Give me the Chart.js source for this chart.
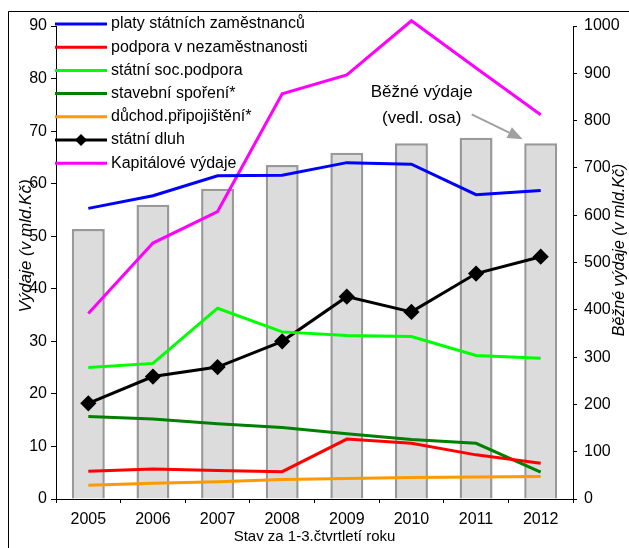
<!DOCTYPE html>
<html>
<head>
<meta charset="utf-8">
<script src="https://cdn.jsdelivr.net/npm/chart.js@4.4.1/dist/chart.umd.min.js"></script>
<style>
  body { margin: 0; background: #fff; }
  #wrap { width: 629px; height: 548px; position: relative; }
</style>
</head>
<body>
<div id="wrap"><canvas id="myChart"></canvas></div>
<script>
// roky a hodnoty
var roky = ['2005', '2006', '2007', '2008', '2009', '2010', '2011', '2012'];
var bezneVydaje = [571, 622, 656, 706, 732, 752, 764, 752];      // vedlejší osa
var platy = [55.3, 57.7, 61.5, 61.6, 64.0, 63.7, 57.9, 58.7];
var podporaNezam = [5.3, 5.7, 5.4, 5.2, 11.4, 10.6, 8.4, 6.8];
var socPodpora = [25.0, 25.8, 36.3, 31.8, 31.1, 30.9, 27.3, 26.8];
var stavebniSporeni = [15.7, 15.2, 14.3, 13.6, 12.4, 11.3, 10.6, 5.1];
var duchodPripojisteni = [2.6, 3.0, 3.3, 3.7, 3.9, 4.1, 4.2, 4.3];
var statniDluh = [18.2, 23.3, 25.1, 30.0, 38.5, 35.6, 42.9, 46.1];
var kapitaloveVydaje = [35.3, 48.7, 54.7, 77.1, 80.7, 91.0, 82.0, 73.1];

var levaOsa = [0, 90, 10];
var pravaOsa = [0, 1000, 100];

var FONT = '"Liberation Sans", Arial, sans-serif';

grafico = {
    init: function () {
        Chart.defaults.font.family = FONT;
        Chart.defaults.color = '#000';
        grafico.generateChart();
    },

    line: function (label, data, color) {
        return {
            type: 'line',
            label: label,
            data: data,
            borderColor: color,
            backgroundColor: color,
            borderWidth: 3,
            pointRadius: 0,
            tension: 0,
            clip: false,
            yAxisID: 'y',
            order: 1
        };
    },

    extras: {
        id: 'extras',
        afterDraw: function (chart) {
            var ctx = chart.ctx;
            ctx.save();

            // ramecek
            ctx.strokeStyle = '#000';
            ctx.lineWidth = 1;
            ctx.beginPath();
            ctx.moveTo(8.5, chart.height);
            ctx.lineTo(8.5, 11.5);
            ctx.lineTo(chart.width, 11.5);
            ctx.stroke();

            // popisky os
            ctx.fillStyle = '#000';
            ctx.textAlign = 'center';
            ctx.textBaseline = 'middle';
            ctx.font = 'italic 17px ' + FONT;
            ctx.save();
            ctx.translate(26, 246);
            ctx.rotate(-Math.PI / 2);
            ctx.fillText('Výdaje (v mld.Kč)', 0, 0);
            ctx.restore();
            ctx.font = 'italic 16px ' + FONT;
            ctx.save();
            ctx.translate(620, 250);
            ctx.rotate(-Math.PI / 2);
            ctx.fillText('Běžné výdaje (v mld.Kč)', 0, 0);
            ctx.restore();

            // legenda
            ctx.font = '16px ' + FONT;
            ctx.textAlign = 'left';
            var i = 0;
            chart.data.datasets.forEach(function (ds) {
                if (ds.type !== 'line') return;
                var y = 24 + i * 23.2;
                ctx.strokeStyle = ds.borderColor;
                ctx.lineWidth = 3;
                ctx.beginPath();
                ctx.moveTo(55, y);
                ctx.lineTo(107, y);
                ctx.stroke();
                if (ds.pointRadius > 0) {
                    var r = ds.pointRadius;
                    ctx.fillStyle = ds.borderColor;
                    ctx.beginPath();
                    ctx.moveTo(81, y - r);
                    ctx.lineTo(81 + r, y);
                    ctx.lineTo(81, y + r);
                    ctx.lineTo(81 - r, y);
                    ctx.closePath();
                    ctx.fill();
                }
                ctx.fillStyle = '#000';
                ctx.fillText(ds.label, 111, y);
                i++;
            });

            // popisek sloupcu se sipkou k poslednimu sloupci
            var xs = chart.scales.x;
            var y1 = chart.scales.y1;
            var last = bezneVydaje.length - 1;
            var tipX = xs.getPixelForValue(last) - 18;
            var tipY = y1.getPixelForValue(bezneVydaje[last]) - 4;
            ctx.font = '17px ' + FONT;
            ctx.textAlign = 'center';
            ctx.fillStyle = '#000';
            ctx.fillText('Běžné výdaje', tipX - 101, tipY - 47);
            ctx.fillText('(vedl. osa)', tipX - 101, tipY - 21);

            var sx = tipX - 51, sy = tipY - 25;
            var ang = Math.atan2(tipY - sy, tipX - sx);
            var len = 15, half = 6;
            var bx = tipX - len * Math.cos(ang), by = tipY - len * Math.sin(ang);
            ctx.strokeStyle = '#a0a0a0';
            ctx.fillStyle = '#a0a0a0';
            ctx.lineWidth = 2;
            ctx.beginPath();
            ctx.moveTo(sx, sy);
            ctx.lineTo(bx, by);
            ctx.stroke();
            ctx.beginPath();
            ctx.moveTo(tipX, tipY);
            ctx.lineTo(bx + half * Math.sin(ang), by - half * Math.cos(ang));
            ctx.lineTo(bx - half * Math.sin(ang), by + half * Math.cos(ang));
            ctx.closePath();
            ctx.fill();

            ctx.restore();
        }
    },

    generateChart: function () {
        var dluh = grafico.line('státní dluh', statniDluh, '#000000');
        dluh.pointRadius = 6;
        dluh.pointStyle = 'rectRot';
        dluh.pointHoverRadius = 6;

        var ctx = document.getElementById('myChart');
        var mixedChart = new Chart(ctx, {
            data: {
                labels: roky,
                datasets: [
                    grafico.line('platy státních zaměstnanců', platy, '#0000ff'),
                    grafico.line('podpora v nezaměstnanosti', podporaNezam, '#ff0000'),
                    grafico.line('státní soc.podpora', socPodpora, '#00ff00'),
                    grafico.line('stavební spoření*', stavebniSporeni, '#008000'),
                    grafico.line('důchod.připojištění*', duchodPripojisteni, '#ff9900'),
                    dluh,
                    grafico.line('Kapitálové výdaje', kapitaloveVydaje, '#ff00ff'),
                    {
                        type: 'bar',
                        label: 'Běžné výdaje',
                        data: bezneVydaje,
                        backgroundColor: '#dcdcdc',
                        borderColor: '#999999',
                        borderWidth: 2.5,
                        categoryPercentage: 1,
                        barPercentage: 0.51,
                        yAxisID: 'y1',
                        order: 10
                    }
                ]
            },
            options: {
                responsive: true,
                maintainAspectRatio: false,
                animation: false,
                layout: { padding: { top: 26, left: 0, right: 0, bottom: 0 } },
                plugins: {
                    legend: { display: false },
                    tooltip: { enabled: false }
                },
                scales: {
                    x: {
                        offset: true,
                        grid: { offset: true, drawOnChartArea: false, tickLength: 4, color: '#000' },
                        border: { color: '#000' },
                        ticks: { color: '#000', font: { size: 16 }, padding: 7 },
                        title: {
                            display: true,
                            text: 'Stav za 1-3.čtvrtletí roku',
                            color: '#000',
                            font: { size: 15 },
                            padding: { top: 0, bottom: 2 }
                        },
                        afterFit: function (s) { s.height = 49; }
                    },
                    y: {
                        position: 'left',
                        min: levaOsa[0],
                        max: levaOsa[1],
                        ticks: { stepSize: levaOsa[2], color: '#000', font: { size: 16 }, padding: 4 },
                        grid: { drawOnChartArea: false, tickLength: 5, color: '#000' },
                        border: { color: '#000' },
                        afterFit: function (s) { s.width = 56; }
                    },
                    y1: {
                        position: 'right',
                        min: pravaOsa[0],
                        max: pravaOsa[1],
                        ticks: {
                            stepSize: pravaOsa[2], color: '#000', font: { size: 16 }, padding: 7,
                            callback: function (v) { return String(v); }
                        },
                        grid: { drawOnChartArea: false, tickLength: 4, color: '#000' },
                        border: { color: '#000' },
                        afterFit: function (s) { s.width = 56; }
                    }
                }
            },
            plugins: [grafico.extras]
        });
    }
};

grafico.init();
</script>
</body>
</html>
